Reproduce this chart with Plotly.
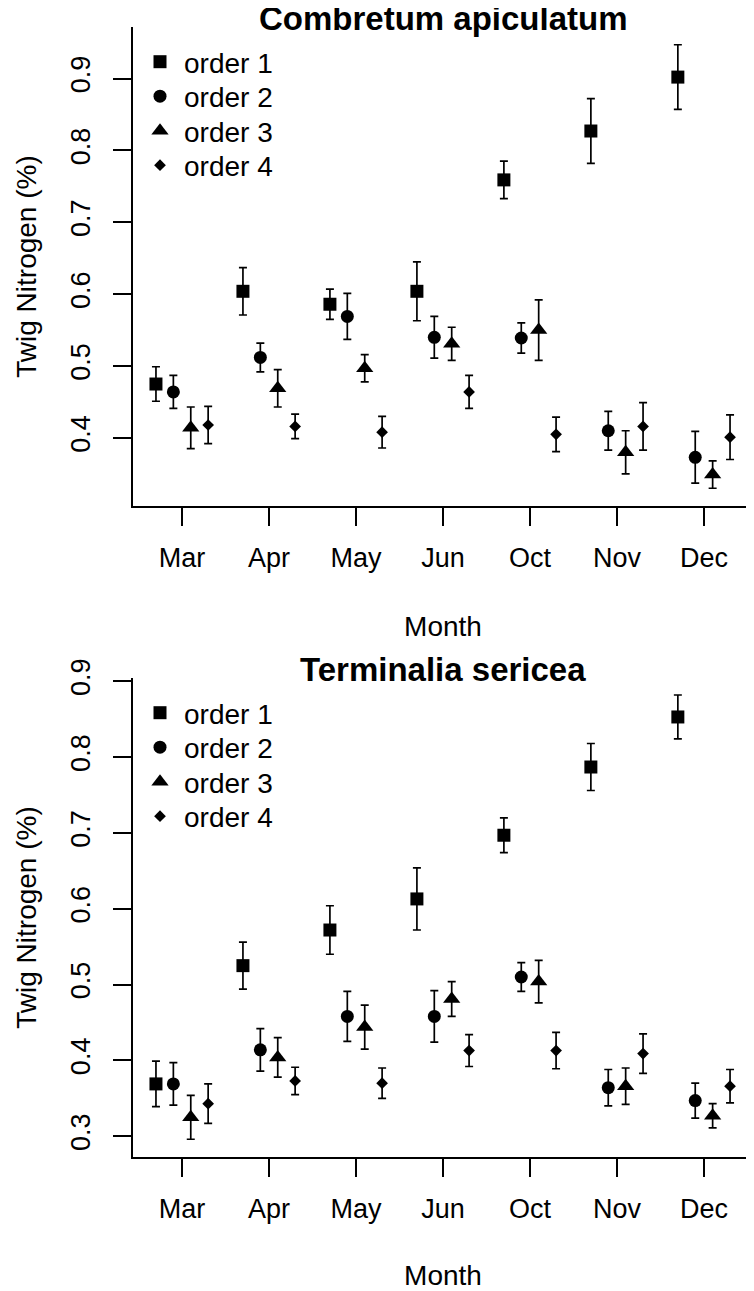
import plotly.graph_objects as go

# the page body adds an 8px margin, so the figure is shrunk by that much
# and reference pixel positions are shifted by OFF when placed on the paper
OFF = 8
W, H = 754 - OFF, 1291 - OFF

months = ["Mar", "Apr", "May", "Jun", "Oct", "Nov", "Dec"]
orders = ["order 1", "order 2", "order 3", "order 4"]

# Combretum apiculatum: mean twig N (%) and error half-width, per twig order
comb_o1 = [0.475, 0.604, 0.586, 0.604, 0.759, 0.827, 0.902]
comb_o1_se = [0.024, 0.033, 0.021, 0.041, 0.026, 0.045, 0.045]
comb_o2 = [0.464, 0.512, 0.569, 0.540, 0.539, 0.410, 0.373]
comb_o2_se = [0.023, 0.020, 0.032, 0.029, 0.021, 0.027, 0.036]
comb_o3 = [0.414, 0.469, 0.497, 0.531, 0.550, 0.380, 0.349]
comb_o3_se = [0.029, 0.026, 0.019, 0.023, 0.042, 0.030, 0.019]
comb_o4 = [0.418, 0.416, 0.408, 0.464, 0.405, 0.416, 0.401]
comb_o4_se = [0.026, 0.017, 0.022, 0.023, 0.024, 0.033, 0.031]

# Terminalia sericea
term_o1 = [0.369, 0.525, 0.572, 0.613, 0.697, 0.787, 0.853]
term_o1_se = [0.030, 0.031, 0.032, 0.041, 0.023, 0.031, 0.029]
term_o2 = [0.369, 0.414, 0.458, 0.458, 0.510, 0.364, 0.347]
term_o2_se = [0.028, 0.028, 0.033, 0.034, 0.019, 0.024, 0.023]
term_o3 = [0.325, 0.404, 0.444, 0.481, 0.504, 0.366, 0.327]
term_o3_se = [0.029, 0.026, 0.029, 0.023, 0.028, 0.024, 0.016]
term_o4 = [0.343, 0.373, 0.370, 0.413, 0.413, 0.409, 0.366]
term_o4_se = [0.026, 0.018, 0.020, 0.021, 0.024, 0.026, 0.022]

panels = [
    ("Combretum apiculatum", [comb_o1, comb_o2, comb_o3, comb_o4],
     [comb_o1_se, comb_o2_se, comb_o3_se, comb_o4_se]),
    ("Terminalia sericea", [term_o1, term_o2, term_o3, term_o4],
     [term_o1_se, term_o2_se, term_o3_se, term_o4_se]),
]

FONT = "Liberation Sans, Arial, Helvetica, sans-serif"
symbols = ["square", "circle", "triangle-up", "diamond"]
sizes = [13, 13, 15, 9]
offsets = [-0.3, -0.1, 0.1, 0.3]

# pixel geometry (reference image pixels) of the two plot boxes
boxes = [(27, 506), (678, 1157)]
x0, x1 = 133, 753
legend_rows = [62, 96.5, 131, 165.5]


def px(p):
    return (p - OFF) / W


def py(p):
    return 1 - (p - OFF) / H


fig = go.Figure()

for i, (title, means, ses) in enumerate(panels):
    xa = "x" if i == 0 else "x2"
    ya = "y" if i == 0 else "y2"
    for j in range(4):
        n = i * 4 + j + 1
        fig.add_trace(go.Scatter(
            x=[k + 1 + offsets[j] for k in range(len(months))],
            y=means[j],
            mode="markers",
            name=orders[j],
            marker=dict(symbol=symbols[j], size=sizes[j], color="black"),
            error_y=dict(type="data", array=ses[j], visible=True,
                         color="black", thickness=1.7, width=4),
            xaxis=xa, yaxis=ya,
            showlegend=True,
            legend="legend" if n == 1 else "legend%d" % n,
        ))

axis_common = dict(
    showline=True, linecolor="black", linewidth=1.5,
    ticks="outside", ticklen=18, tickwidth=1.5, tickcolor="black",
    showgrid=False, zeroline=False,
    tickfont=dict(family=FONT, size=27, color="black"),
)

ranges_y = [[0.3053, 0.9717], [0.2726, 0.9044]]
tickvals_y = [[0.4, 0.5, 0.6, 0.7, 0.8, 0.9], [0.3, 0.4, 0.5, 0.6, 0.7, 0.8, 0.9]]

layout = dict(
    width=W, height=H,
    margin=dict(l=0, r=0, t=0, b=0),
    paper_bgcolor="white", plot_bgcolor="white",
    font=dict(family=FONT, color="black"),
    showlegend=True,
)

annotations = []
for i in range(2):
    top, bot = boxes[i]
    sx = "" if i == 0 else "2"
    layout["xaxis" + sx] = dict(
        axis_common,
        domain=[px(x0), px(x1)],
        range=[0.436, 7.564],
        tickmode="array", tickvals=list(range(1, 8)), ticktext=months,
        ticklabelstandoff=9,
        anchor="y" + sx,
        title=dict(text="Month", font=dict(family=FONT, size=28, color="black"), standoff=44),
        automargin=False,
    )
    layout["yaxis" + sx] = dict(
        axis_common,
        domain=[py(bot), py(top)],
        range=ranges_y[i],
        tickmode="array", tickvals=tickvals_y[i],
        tickformat=".1f",
        tickangle=-90,
        ticklabelstandoff=12,
        anchor="x" + sx,
        title=dict(text="Twig Nitrogen (%)", font=dict(family=FONT, size=28, color="black"), standoff=22),
        automargin=False,
    )
    annotations.append(dict(
        text="<b>" + panels[i][0] + "</b>",
        x=px((x0 + x1) / 2), y=py(top - 8.5), xref="paper", yref="paper",
        xanchor="center", yanchor="middle", showarrow=False,
        font=dict(family=FONT, size=33, color="black"),
    ))
    shift = 0 if i == 0 else boxes[1][0] - boxes[0][0]
    for j in range(4):
        n = i * 4 + j + 1
        name = "legend" if n == 1 else "legend%d" % n
        layout[name] = dict(
            x=px(136), y=py(legend_rows[j] + shift - 25),
            xanchor="left", yanchor="top",
            bgcolor="rgba(0,0,0,0)",
            font=dict(family=FONT, size=28, color="black"),
            itemwidth=38,
        )

layout["annotations"] = annotations
fig.update_layout(**layout)

fig.write_html("out.html")
